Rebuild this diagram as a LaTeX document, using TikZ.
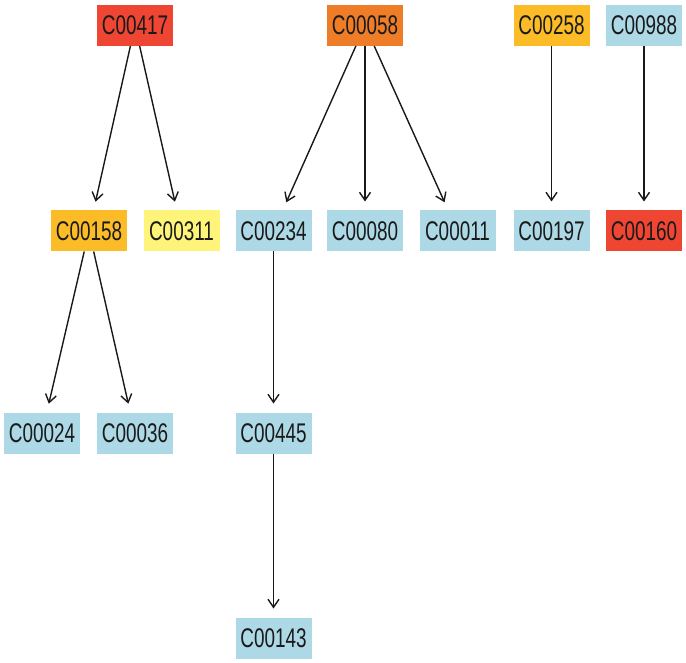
\documentclass[tikz,border=0pt]{standalone}
\usepackage{fontspec}
\newfontfamily\nodefont[FakeStretch=0.7]{Liberation Sans}
\usetikzlibrary{arrows.meta}
\definecolor{cred}{HTML}{EF4533}
\definecolor{corange}{HTML}{EF7D28}
\definecolor{camber}{HTML}{FBBC28}
\definecolor{cyellow}{HTML}{FFF47A}
\definecolor{cblue}{HTML}{ADD8E6}
\definecolor{ctext}{HTML}{1A1A1A}
\tikzset{
  box/.style={minimum width=76pt, minimum height=41pt, inner sep=0pt, outer sep=0pt,
    font=\nodefont\fontsize{27}{30}\selectfont, text=ctext},
  red/.style={box, fill=cred},
  orange/.style={box, fill=corange},
  amber/.style={box, fill=camber},
  yel/.style={box, fill=cyellow},
  blue/.style={box, fill=cblue},
  link/.style={draw=black!90, line width=1.4pt, shorten >=9pt,
    -{Straight Barb[length=8pt,width=11pt,line width=1.4pt]}}
}
\begin{document}
\begin{tikzpicture}[x=1pt,y=1pt]
\useasboundingbox (0,0) rectangle (686,-663);
% row 1
\node[red]    (n417) at (135,-25.5) {C00417};
\node[orange] (n058) at (365,-25.5) {C00058};
\node[amber]  (n258) at (551.5,-25.5) {C00258};
\node[blue]   (n988) at (644,-25.5) {C00988};
% row 2
\node[amber]  (n158) at (89,-231) {C00158};
\node[yel]    (n311) at (181.5,-231) {C00311};
\node[blue]   (n234) at (273.5,-231) {C00234};
\node[blue]   (n080) at (365,-231) {C00080};
\node[blue]   (n011) at (457.5,-231) {C00011};
\node[blue]   (n197) at (551.5,-231) {C00197};
\node[red]    (n160) at (644,-231) {C00160};
% row 3
\node[blue]   (n024) at (42,-433) {C00024};
\node[blue]   (n036) at (135,-433) {C00036};
\node[blue]   (n445) at (273.5,-433) {C00445};
% row 4
\node[blue]   (n143) at (273.5,-638) {C00143};
% edges
\draw[link] (n417) -- (n158);
\draw[link] (n417) -- (n311);
\draw[link] (n058) -- (n234);
\draw[link] (n058) -- (n080);
\draw[link] (n058) -- (n011);
\draw[link] (n258) -- (n197);
\draw[link] (n988) -- (n160);
\draw[link] (n158) -- (n024);
\draw[link] (n158) -- (n036);
\draw[link] (n234) -- (n445);
\draw[link] (n445) -- (n143);
\end{tikzpicture}
\end{document}
